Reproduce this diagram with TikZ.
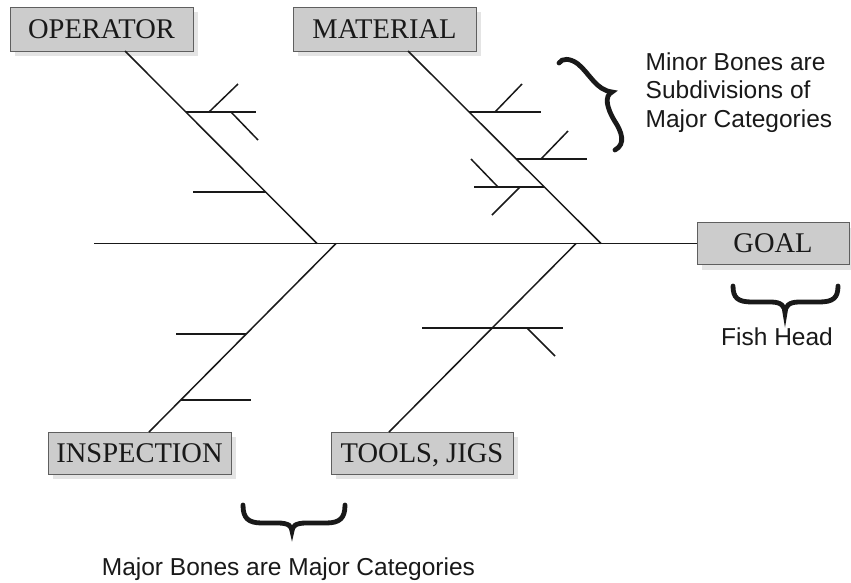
\documentclass[tikz,border=0pt]{standalone}
\usepackage{fontspec}
\setmainfont{Liberation Serif}
\newfontfamily\labelfont{Liberation Sans}
\usetikzlibrary{shadows}
\definecolor{boxfill}{RGB}{204,204,204}
\definecolor{boxline}{RGB}{95,95,95}
\definecolor{shadowgray}{RGB}{228,228,228}
\definecolor{ink}{RGB}{25,25,25}
\begin{document}
\begin{tikzpicture}[x=1pt,y=-1pt,
  catbox/.style={draw=boxline, line width=0.9pt, fill=boxfill, minimum height=44pt,
    inner sep=0pt, text height=18.5pt, text depth=0pt, text=ink,
    font=\fontsize{28.5}{31}\selectfont,
    drop shadow={shadow xshift=5pt, shadow yshift=-5pt, fill=shadowgray, opacity=1}},
  bone/.style={line width=1.5pt, draw=ink},
  bracestroke/.style={line width=4.8pt, line cap=round, line join=miter, draw=ink},
  note/.style={inner sep=0pt, anchor=base west, text=ink,
    font=\labelfont\fontsize{24.5}{28.5}\selectfont}]
\useasboundingbox (0,0) rectangle (851,582);

% category boxes
\node[catbox, minimum width=183pt] (operator) at (101.5,29) {OPERATOR};
\node[catbox, minimum width=183pt] (material) at (384.5,29) {MATERIAL};
\node[catbox, minimum width=152pt, minimum height=42pt] (goal) at (773,243.5) {GOAL};
\node[catbox, minimum width=183pt, minimum height=42pt] (inspection) at (139.5,453) {INSPECTION};
\node[catbox, minimum width=182pt, minimum height=42pt] (tools) at (422,453) {TOOLS, JIGS};

% spine
\coordinate (tail) at (94,243.5);
\draw[bone] (tail) -- (goal.west);

% major bones
\coordinate (opTop) at (125,51);    \coordinate (opJ) at (317,243.5);
\coordinate (matTop) at (408,51);   \coordinate (matJ) at (601,243.5);
\coordinate (insBot) at (149,432);  \coordinate (insJ) at (336,243.5);
\coordinate (toolBot) at (389,432); \coordinate (toolJ) at (576,243.5);
\draw[bone] (opTop) -- (opJ);
\draw[bone] (matTop) -- (matJ);
\draw[bone] (insBot) -- (insJ);
\draw[bone] (toolBot) -- (toolJ);

% operator minor bones
\draw[bone] (186,112) -- (256,112);
\draw[bone] (209,112) -- (238,84);
\draw[bone] (231,112) -- (258,140);
\draw[bone] (193,192) -- (266,192);

% material minor bones
\draw[bone] (469,112) -- (541,112);
\draw[bone] (495,112) -- (522,84);
\draw[bone] (516,159) -- (587,159);
\draw[bone] (541,159) -- (568,131);
\draw[bone] (474,187) -- (544,187);
\draw[bone] (471,159) -- (498,187);
\draw[bone] (520,187) -- (492,215);

% inspection minor bones
\draw[bone] (176,334) -- (246,334);
\draw[bone] (181,400) -- (251,400);

% tools minor bones
\draw[bone] (422,328) -- (563,328);
\draw[bone] (527,328) -- (555,356);

% braces
\draw[bracestroke] (559,63) .. controls (562,58) and (570,58) .. (578,64)
  .. controls (590,74) and (596,90) .. (612,92)
  .. controls (604,96) and (607,108) .. (614,120)
  .. controls (622,132) and (626,144) .. (615,150);
\draw[bracestroke] (733,286) .. controls (733,298) and (738,302) .. (752,302) -- (771,302)
  .. controls (781,302) and (785,306) .. (785,313)
  .. controls (785,306) and (789,302) .. (799,302) -- (819,302)
  .. controls (833,302) and (838,298) .. (838,286);
\draw[bracestroke] (243,505) .. controls (243,518) and (248,523) .. (262,523) -- (278,523)
  .. controls (288,523) and (292,526) .. (292,531)
  .. controls (292,526) and (296,523) .. (306,523) -- (326,523)
  .. controls (340,523) and (345,518) .. (345,505);

% notes
\node[note] (minorA) at (645.5,70) {Minor Bones are};
\node[note] (minorB) at (645.5,98.5) {Subdivisions of};
\node[note] (minorC) at (645.5,127) {Major Categories};
\node[note] (head) at (721,345.5) {Fish Head};
\node[note] (major) at (101.7,575) {Major Bones are Major Categories};
\end{tikzpicture}
\end{document}
